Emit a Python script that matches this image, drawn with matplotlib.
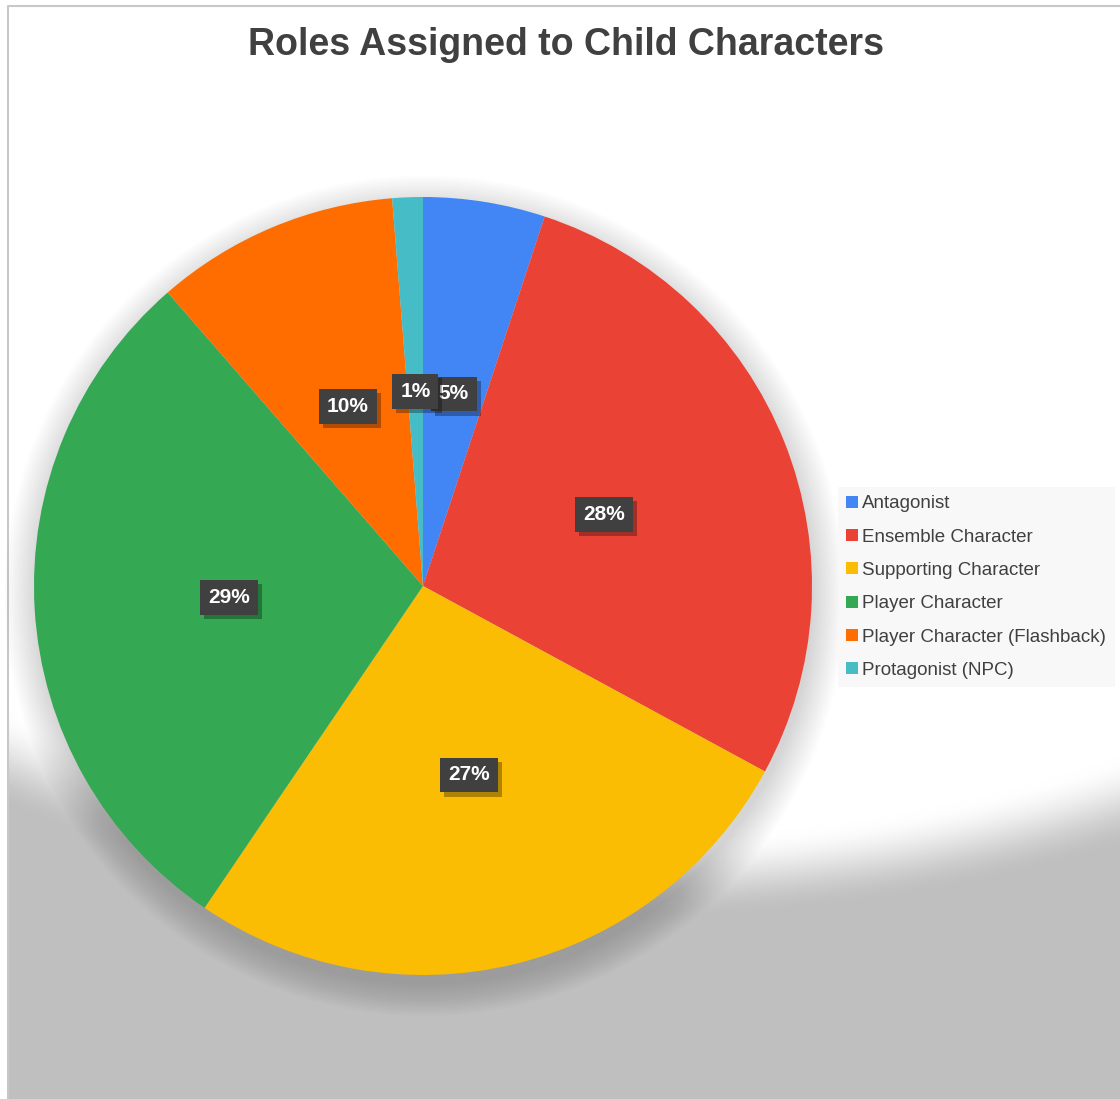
import numpy as np
import matplotlib
matplotlib.use('Agg')
import matplotlib.pyplot as plt
import matplotlib.patheffects as pe
from matplotlib.patches import Circle

# data (counts, shown as percent of total)
roles = ['Antagonist', 'Ensemble Character', 'Supporting Character',
         'Player Character', 'Player Character (Flashback)', 'Protagonist (NPC)']
counts = [4, 22, 21, 23, 8, 1]
colors = ['#4285F4', '#EA4335', '#FBBC04', '#34A853', '#FF6D01', '#46BDC6']

W, H = 1120, 1099
fig = plt.figure(figsize=(W / 100, H / 100), dpi=100)
fig.patch.set_facecolor('white')

# background: grey with a soft white elliptical glow at the top
yy, xx = np.mgrid[0:H, 0:W].astype(float)
d = np.sqrt(((xx - 620) / 1090) ** 2 + ((yy - 205) / 680) ** 2)
t = np.clip((d - 0.93) / 0.12, 0, 1)
t = t * t * (3 - 2 * t)
val = 1.0 - t * (1.0 - 0.75)
val[(xx < 9) | (yy < 7)] = 1.0
bg = fig.add_axes([0, 0, 1, 1], zorder=-2)
bg.imshow(np.dstack([val, val, val]), extent=(0, W, H, 0), aspect='auto')
bg.set_xlim(0, W)
bg.set_ylim(H, 0)
bg.axis('off')
bg.plot([8, 8, W], [H, 6, 6], color='#C8C8C8', lw=1.5)

# pie
cx, cy, r = 423, 586, 389
ax = fig.add_axes([(cx - r) / W, (H - cy - r) / H, 2 * r / W, 2 * r / H])
ax.patch.set_visible(False)
for rr in np.linspace(1.08, 1.0, 14):
    ax.add_patch(Circle((0.005, -0.025), rr, fc='k', ec='none', alpha=0.012,
                        zorder=0, clip_on=False))

wedges, texts, autotexts = ax.pie(
    counts, colors=colors, startangle=90, counterclock=False,
    autopct='%1.0f%%', pctdistance=0.5,
    wedgeprops=dict(linewidth=0, zorder=1),
    textprops=dict(color='white', fontsize=15, fontweight='bold',
                   family=['Liberation Sans', 'DejaVu Sans']))
for at in autotexts:
    at.set_bbox(dict(boxstyle='square,pad=0.38', fc='#404040', ec='none'))
    at.get_bbox_patch().set_path_effects([
        pe.SimplePatchShadow(offset=(3, -3), shadow_rgbFace='k', alpha=0.3),
        pe.Normal()])
ax.set_xlim(-1, 1)
ax.set_ylim(-1, 1)
ax.set_aspect('equal')
ax.axis('off')

# title
fig.text(0.505, 1 - 55 / H, 'Roles Assigned to Child Characters',
         ha='center', va='baseline', fontsize=27, fontweight='bold',
         color='#404040', family=['Liberation Sans', 'DejaVu Sans'])

# legend
leg = fig.legend(wedges, roles, loc='upper left',
                 bbox_to_anchor=(838 / W, 1 - 487 / H),
                 frameon=True, fancybox=False,
                 handlelength=0.6, handleheight=0.6, handletextpad=0.25,
                 labelspacing=0.87, borderpad=0.45, borderaxespad=0,
                 prop=dict(family=['Liberation Sans', 'DejaVu Sans'], size=13.5))
leg.get_frame().set_facecolor('#F8F8F8')
leg.get_frame().set_edgecolor('none')
leg.get_frame().set_alpha(0.9)
for txt in leg.get_texts():
    txt.set_color('#404040')

fig.savefig('out.png', dpi=100)
